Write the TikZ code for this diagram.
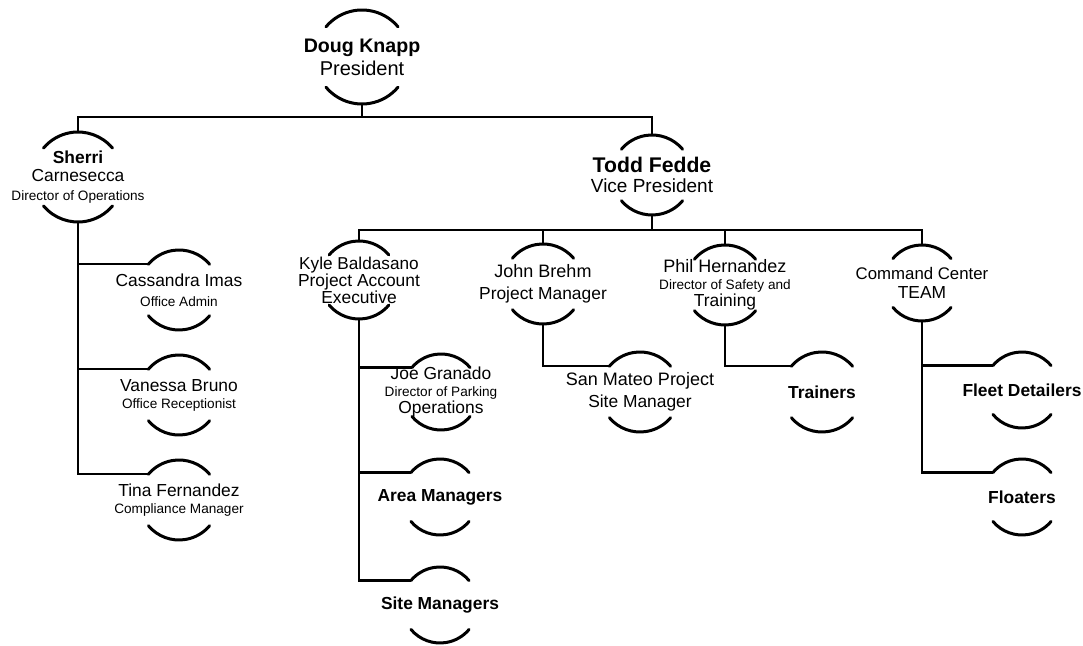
\documentclass[tikz,border=0pt]{standalone}
\usepackage{fontspec}
\setmainfont{Liberation Sans}
\usetikzlibrary{calc}

\newcommand{\rolefont}{\fontsize{6.8}{8.2}\selectfont}

\tikzset{
  bulle/.style={circle, minimum size=#1, inner sep=0pt, outer sep=0pt},
  texte/.style={align=center, inner sep=0pt, font=\fontsize{8.7}{#1}\selectfont},
  texte/.default=10.5,
  trait/.style={line width=1.2pt},
  demi/.style={line width=1.5pt, line cap=round}
}

\begin{document}
\begin{tikzpicture}[x=0.5pt,y=0.5pt]
\useasboundingbox (0,0) rectangle (1083,-646);

% Direction
\node[bulle=47pt, label={[texte=11.5]center:{\fontsize{9.8}{11.5}\selectfont\bfseries Doug Knapp\\ \fontsize{10}{11.5}\selectfont\mdseries President}}] (doug) at (362,-57) {};
\node[bulle=40pt, label={[texte=10.3]center:{\fontsize{10.6}{10}\selectfont\bfseries Todd Fedde\\ \fontsize{9.5}{10}\selectfont\mdseries Vice President}}] (todd) at (652,-175) {};

% Branche administrative
\node[bulle=45pt, label={[texte=9.3]center:{\bfseries Sherri\\Carnesecca\\ \rolefont Director of Operations}}] (sherri) at (78,-177) {};
\node[bulle=40pt, label={[texte=10]center:{Cassandra Imas\\ \rolefont Office Admin}}] (cass) at (179,-290) {};
\node[bulle=40pt, label={[texte=8.5]center:{Vanessa Bruno\\ \rolefont Office Receptionist}}] (vanessa) at (179,-395) {};
\node[bulle=40pt, label={[texte=8.5]center:{Tina Fernandez\\ \rolefont Compliance Manager}}] (tina) at (179,-500) {};

% Branche operations
\node[bulle=39pt, label={[texte=8.5]center:{\fontsize{8.6}{8.5}\selectfont Kyle Baldasano\\Project Account\\Executive}}] (kyle) at (359,-280) {};
\node[bulle=40pt, label={[texte=11]center:{\fontsize{9}{11}\selectfont John Brehm\\Project Manager}}] (john) at (543,-284) {};
\node[bulle=40pt, label={[texte=8.6]center:{\fontsize{9}{9}\selectfont Phil Hernandez\\ \rolefont Director of Safety and\\Training}}] (phil) at (725,-285) {};
\node[bulle=38pt, label={[texte=9.5]center:{\fontsize{8.4}{9.5}\selectfont Command Center\\TEAM}}] (cmd) at (922,-283) {};

% Equipes
\node[bulle=38pt, label={[texte=8.3]center:{Joe Granado\\ \rolefont Director of Parking\\Operations}}] (joe) at (441,-392) {};
\node[bulle=38pt, label={[texte]center:{\bfseries Area Managers}}] (area) at (440,-497) {};
\node[bulle=38pt, label={[texte]center:{\bfseries Site Managers}}] (site) at (440,-605) {};
\node[bulle=40pt, label={[texte=11]center:{\fontsize{9}{11}\selectfont San Mateo Project\\Site Manager}}] (sanmateo) at (640,-392) {};
\node[bulle=40pt, label={[texte]center:{\bfseries Trainers}}] (trainers) at (822,-392) {};
\node[bulle=38pt, label={[texte]center:{\bfseries Fleet Detailers}}] (fleet) at (1022,-390) {};
\node[bulle=38pt, label={[texte]center:{\bfseries Floaters}}] (floaters) at (1022,-497) {};

% Arcs des bulles
\foreach \bu in {doug,todd,sherri,cass,vanessa,tina,kyle,john,phil,cmd,joe,area,site,sanmateo,trainers,fleet,floaters}
  \draw[demi] let \p1=($(\bu.north)-(\bu.center)$), \n1={veclen(\x1,\y1)} in
    (\bu.40) arc[start angle=40, end angle=140, radius=\n1]
    (\bu.220) arc[start angle=220, end angle=320, radius=\n1];

% Liaisons
\coordinate (bus1) at (362,-117);
\coordinate (bus2) at (652,-230);
\draw[trait] (doug.south) -- (bus1);
\draw[trait] (sherri.north) |- (bus1) -| (todd.north);
\draw[trait] (todd.south) -- (bus2);
\draw[trait] (kyle.north) |- (bus2) -| (cmd.north);
\draw[trait] (john.north) -- (john.north |- bus2);
\draw[trait] (phil.north) -- (phil.north |- bus2);
\foreach \enfant in {cass,vanessa,tina}
  \draw[trait] (sherri.south) |- (\enfant.140);
\foreach \enfant in {joe,area,site}
  \draw[trait] (kyle.south) |- (\enfant.140);
\draw[trait] (john.south) |- (sanmateo.140);
\draw[trait] (phil.south) |- (trainers.140);
\foreach \enfant in {fleet,floaters}
  \draw[trait] (cmd.south) |- (\enfant.140);
\end{tikzpicture}
\end{document}
